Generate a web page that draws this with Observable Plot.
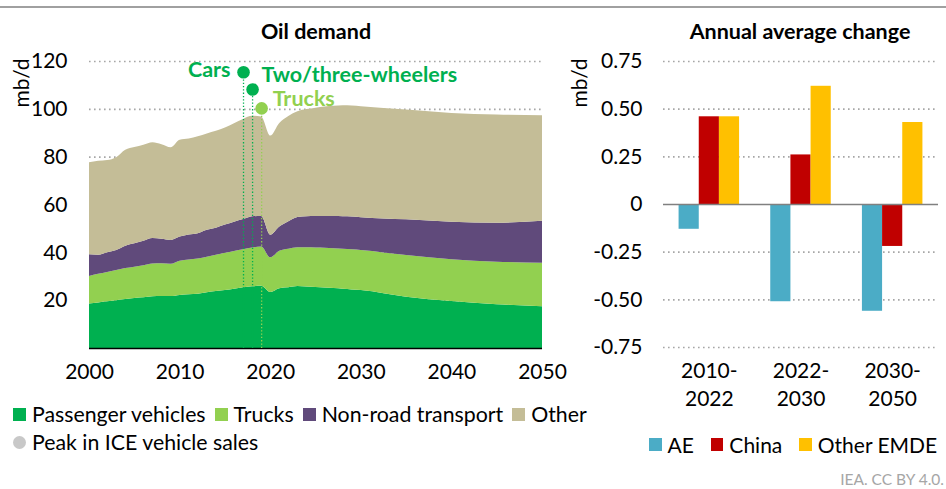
<!DOCTYPE html>
<html><head><meta charset="utf-8">
<script src="https://cdn.jsdelivr.net/npm/d3@7"></script>
<script src="https://cdn.jsdelivr.net/npm/@observablehq/plot@0.6"></script>
<style>
body{margin:0;background:#fff;font-family:Lato,sans-serif;color:#000;}
#wrap{position:relative;width:946px;height:489px;overflow:hidden;background:#fff;}
.abs{position:absolute;white-space:nowrap;line-height:1;}
.title{font-weight:bold;font-size:21.5px;transform:translateX(-50%);}
.ylab{font-size:21px;transform:translate(-50%,-50%) rotate(-90deg);}
.legend{display:flex;align-items:center;font-size:21.3px;}
.legend .item{display:flex;align-items:center;}
.legend .sw{display:inline-block;width:13px;height:13px;margin-right:6px;}
.legend .circ{display:inline-block;width:13px;height:13px;border-radius:50%;margin-right:6px;}
</style></head><body><div id="wrap"></div>
<script>
// ---- Oil demand (mb/d), stacked layers ----
const years = [2000,2001,2002,2003,2004,2005,2006,2007,2008,2009,2010,2011,2012,2013,2014,2015,2016,2017,2018,2019,2020,2021,2022,2023,2024,2025,2026,2027,2028,2029,2030,2035,2040,2045,2050];
const passengerVehicles = [18.6,19.0,19.5,20.0,20.5,20.9,21.2,21.6,21.7,21.7,22.2,22.5,22.7,23.3,23.8,24.2,24.8,25.4,25.8,26.0,23.4,25.0,25.4,25.9,25.7,25.5,25.3,25.1,24.8,24.5,24.2,21.4,19.6,18.3,17.5];
const trucks = [11.5,12.0,12.3,12.6,12.9,13.1,13.4,13.7,13.7,13.5,14.3,14.5,14.7,14.9,15.2,15.6,15.8,15.9,16.2,16.4,14.5,15.7,16.1,16.2,16.4,16.5,16.6,16.6,16.7,16.8,16.8,17.5,17.5,17.8,18.1];
const nonRoadTransport = [9.1,8.0,8.2,8.4,9.4,9.8,10.2,10.7,10.3,10.0,10.1,10.5,10.6,11.2,11.3,11.8,12.2,12.6,13.1,12.8,9.5,10.1,11.5,12.7,13.0,13.2,13.3,13.5,13.6,13.7,13.7,14.9,15.7,16.3,17.6];
const otherUses = [38.5,39.3,38.6,38.8,40.1,40.2,40.2,40.0,39.5,38.7,40.5,40.1,40.5,40.3,40.5,40.6,41.2,41.9,42.0,41.6,41.4,43.3,44.0,44.2,44.8,45.3,45.8,46.1,46.4,46.4,46.4,45.9,45.5,45.2,44.1];
const seriesNames = ["Passenger vehicles","Trucks","Non-road transport","Other"];
const seriesColors = ["#00B050","#92D050","#604A7B","#C4BD97"];
const oilTicks = [20,40,60,80,100,120];
const yearTicks = [2000,2010,2020,2030,2040,2050];

// ---- Peak in ICE vehicle sales ----
const peakLabels = ["Cars","Two/three-wheelers","Trucks"];
const peakYears = [2017,2018,2019];
const peakValues = [115.5,108.3,100.4];
const peakColors = ["#00B050","#00B050","#92D050"];

// ---- Annual average change (mb/d) ----
const periods = ["2010-\n2022","2022-\n2030","2030-\n2050"];
const regions = ["AE","China","Other EMDE"];
const regionColors = ["#4BACC6","#C00000","#FFC000"];
const aeChange = [-0.13,-0.51,-0.56];
const chinaChange = [0.46,0.26,-0.22];
const otherEmdeChange = [0.46,0.62,0.43];
const changeTicks = [-0.75,-0.5,-0.25,0,0.25,0.5,0.75];

const wrap = document.getElementById("wrap");
function add(html){ wrap.insertAdjacentHTML("beforeend", html); }

// top rule and titles
add('<div class="abs" style="left:0;top:6px;width:946px;height:2px;background:#A0A0A0"></div>');
add('<div class="abs title" style="left:316px;top:21px">Oil demand</div>');
add('<div class="abs title" style="left:800px;top:21px">Annual average change</div>');

const baseStyle = {fontFamily:"Lato, sans-serif", fontSize:"21px", color:"#000", background:"transparent", overflow:"visible"};

// ---- left chart ----
const oil = [];
[passengerVehicles, trucks, nonRoadTransport, otherUses].forEach((arr,k) =>
  arr.forEach((v,i) => oil.push({year: years[i], series: seriesNames[k], value: v})));
const peaks = peakLabels.map((l,i) => ({label:l, year:peakYears[i], value:peakValues[i], color:peakColors[i]}));
const labelStyle = {
  "Cars": {textAnchor:"end", dx:-13, dy:-2},
  "Two/three-wheelers": {textAnchor:"start", dx:9, dy:-14},
  "Trucks": {textAnchor:"start", dx:11, dy:-9}
};
const peakMarks = [];
peaks.forEach(p => {
  peakMarks.push(Plot.ruleX([p], {x:"year", y1:0, y2:"value", stroke:p.color, strokeWidth:1.3, strokeDasharray:"1.3,2"}));
});
peaks.forEach(p => {
  peakMarks.push(Plot.dot([p], {x:"year", y:"value", r:6.3, fill:p.color}));
  peakMarks.push(Plot.text([p], {x:"year", y:"value", text:"label", fill:p.color, fontWeight:"bold", fontSize:21.5, ...labelStyle[p.label]}));
});

const left = Plot.plot({
  width:560, height:390,
  marginLeft:89, marginRight:18, marginTop:61, marginBottom:42,
  x:{domain:[2000,2050]},
  y:{domain:[0,120]},
  color:{domain:seriesNames, range:seriesColors},
  style: baseStyle,
  marks:[
    Plot.ruleY(oilTicks, {stroke:"#A6A6A6", strokeWidth:1.6, strokeDasharray:"1.6,3.4"}),
    Plot.areaY(oil, {x:"year", y:"value", fill:"series", curve:"monotone-x"}),
    Plot.ruleY([0], {stroke:"#000", strokeWidth:1.5}),
    ...peakMarks,
    Plot.axisY({ticks:oilTicks, tickSize:0, tickPadding:22, label:null, fontSize:21}),
    Plot.axisX({ticks:yearTicks, tickSize:0, tickPadding:16, tickFormat:d => String(d), label:null, fontSize:21})
  ]
});
left.style.position = "absolute"; left.style.left = "0px"; left.style.top = "0px";
wrap.appendChild(left);

// ---- right chart ----
const changes = [];
[aeChange, chinaChange, otherEmdeChange].forEach((arr,k) =>
  arr.forEach((v,i) => changes.push({period:i, k, region:regions[k], value:v})));
const bw = 0.22, off = 0.5 - 1.5*bw;
const right = Plot.plot({
  width:386, height:420,
  marginLeft:103, marginRight:8, marginTop:61, marginBottom:73,
  x:{domain:[0,3]},
  y:{domain:[-0.75,0.75]},
  color:{domain:regions, range:regionColors},
  style: baseStyle,
  marks:[
    Plot.ruleY(changeTicks.filter(d => d !== 0), {stroke:"#A6A6A6", strokeWidth:1.6, strokeDasharray:"1.6,3.4"}),
    Plot.rect(changes, {x1:d => d.period + off + d.k*bw, x2:d => d.period + off + (d.k+1)*bw, y1:0, y2:"value", fill:"region"}),
    Plot.ruleY([0], {stroke:"#808080", strokeWidth:1.5}),
    Plot.axisY({ticks:changeTicks, tickSize:0, tickPadding:21, label:null, fontSize:21, tickFormat:d => d === 0 ? "0" : d.toFixed(2)}),
    Plot.axisX({ticks:[0.5,1.5,2.5], tickSize:0, tickPadding:11, label:null, fontSize:21, lineHeight:1.32, tickFormat:i => periods[Math.floor(i)]})
  ]
});
right.style.position = "absolute"; right.style.left = "560px"; right.style.top = "0px";
wrap.appendChild(right);

// axis titles
add('<div class="abs ylab" style="left:20px;top:83px">mb/d</div>');
add('<div class="abs ylab" style="left:578px;top:83px">mb/d</div>');

// ---- legends ----
let lg = '<div class="abs legend" style="left:13px;top:404px">';
seriesNames.forEach((n,i) => {
  lg += `<span class="item" style="margin-right:${i<3?9:0}px"><span class="sw" style="background:${seriesColors[i]}"></span>${n}</span>`;
});
lg += '</div>';
add(lg);
add('<div class="abs legend" style="left:13px;top:432px"><span class="item"><span class="circ" style="background:#C8C8C8"></span>Peak in ICE vehicle sales</span></div>');
let rg = '<div class="abs legend" style="left:649px;top:434px;font-size:21px">';
regions.forEach((n,i) => {
  rg += `<span class="item" style="margin-right:${i<2?17:0}px"><span class="sw" style="background:${regionColors[i]};width:12.5px;height:12.5px"></span>${n}</span>`;
});
rg += '</div>';
add(rg);
add('<div class="abs" style="right:2px;top:472px;font-size:15.5px;color:#A6A6A6">IEA. CC BY 4.0.</div>');
</script></body></html>
